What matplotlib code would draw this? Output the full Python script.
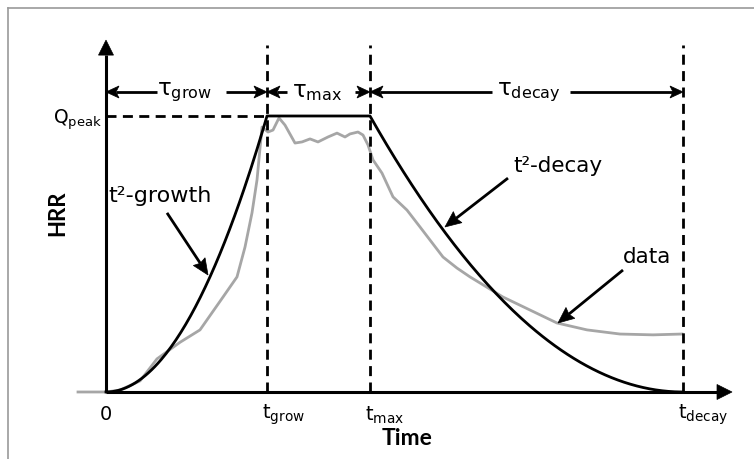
import matplotlib
matplotlib.use("Agg")
import matplotlib.pyplot as plt
import numpy as np
from matplotlib.lines import Line2D
from matplotlib.patches import Polygon

# model parameters (arbitrary time units)
T_GROW = 1.61
T_MAX = 2.64
T_DECAY = 5.77
Q_PEAK = 1.0

data_t = [-0.28, 0.0, 0.14, 0.34, 0.51, 0.74, 0.94, 1.17, 1.31, 1.39, 1.46, 1.51,
          1.56, 1.62, 1.67, 1.73, 1.79, 1.89, 1.96, 2.04, 2.12, 2.22, 2.31, 2.39,
          2.44, 2.52, 2.57, 2.62, 2.67, 2.76, 2.87, 3.01, 3.14, 3.37, 3.51, 3.64,
          3.74, 3.97, 4.24, 4.51, 4.81, 5.14, 5.47, 5.76]
data_q = [0.0, 0.0, 0.007, 0.04, 0.12, 0.18, 0.225, 0.344, 0.417, 0.525, 0.649, 0.768,
          0.96, 0.942, 0.949, 0.993, 0.967, 0.902, 0.906, 0.917, 0.906, 0.924, 0.938, 0.924,
          0.935, 0.942, 0.931, 0.895, 0.841, 0.793, 0.707, 0.659, 0.598, 0.489, 0.449, 0.417,
          0.395, 0.344, 0.297, 0.25, 0.225, 0.21, 0.207, 0.21]

tick_labels = ["0", r"t$_{\mathregular{grow}}$", r"t$_{\mathregular{max}}$", r"t$_{\mathregular{decay}}$"]

BLACK = "#000000"
GRAY = "#a6a6a6"
FONT = "DejaVu Sans"
BOLD = "Lato"

# pixels per data unit
SX, SY = 100.0, 276.0


def arrow(ax, tail, tip, length, width, notch=0.0, lw=2.0):
    """Straight arrow with a filled head; sizes in pixels."""
    dx, dy = (tip[0] - tail[0]) * SX, (tip[1] - tail[1]) * SY
    n = np.hypot(dx, dy)
    ux, uy = dx / n, dy / n
    px, py = -uy, ux
    tx, ty = tip[0] * SX, tip[1] * SY
    pts = [
        (tx, ty),
        (tx - ux * length + px * width / 2, ty - uy * length + py * width / 2),
        (tx - ux * (length - notch), ty - uy * (length - notch)),
        (tx - ux * length - px * width / 2, ty - uy * length - py * width / 2),
    ]
    pts = [(a / SX, b / SY) for a, b in pts]
    base = pts[2]
    ax.plot([tail[0], base[0]], [tail[1], base[1]], color=BLACK, lw=lw,
            solid_capstyle="butt", zorder=5)
    ax.add_patch(Polygon(pts, closed=True, facecolor=BLACK, edgecolor=BLACK, lw=0.5, zorder=6))


fig = plt.figure(figsize=(7.54, 4.59), dpi=100)
ax = fig.add_axes([0, 0, 1, 1])
ax.set_xlim(-1.06, 6.48)
ax.set_ylim(-0.2428, 1.4203)
ax.axis("off")

# outer frame (top and left edges visible)
fig.add_artist(Line2D([8 / 754, 1], [1 - 8 / 459] * 2, color="#9a9a9a", lw=1.2))
fig.add_artist(Line2D([8 / 754] * 2, [0, 1 - 8 / 459], color="#9a9a9a", lw=1.2))

# model curve: t^2 growth, plateau, t^2 decay
tg = np.linspace(0, T_GROW, 100)
td = np.linspace(T_MAX, T_DECAY, 150)
mt = np.concatenate([tg, td])
mq = np.concatenate([Q_PEAK * (tg / T_GROW) ** 2,
                     Q_PEAK * ((T_DECAY - td) / (T_DECAY - T_MAX)) ** 2])
ax.plot(data_t, data_q, color=GRAY, lw=2.0, zorder=2, solid_joinstyle="round")
ax.plot(mt, mq, color=BLACK, lw=2.0, zorder=3)

# axes with arrow heads
arrow(ax, (0, 0), (6.26, 0), 15, 15, lw=2.2)
arrow(ax, (0, 0), (0, 1.275), 15, 15, lw=2.2)

# guide lines
for tx in [T_GROW, T_MAX, T_DECAY]:
    ax.plot([tx, tx], [0, 1.257], color=BLACK, lw=2.0, dashes=(3.6, 2.3), zorder=3)
ax.plot([0, T_GROW], [Q_PEAK, Q_PEAK], color=BLACK, lw=2.0, dashes=(3.6, 2.3), zorder=3)

# duration arrows
y_arr = 1.087
for x0, x1, g0, g1, xc, lab in [
    (0, T_GROW, 0.51, 1.20, 0.78, r"$\mathregular{\tau_{grow}}$"),
    (T_GROW, T_MAX, 1.81, 2.49, 2.11, r"$\mathregular{\tau_{max}}$"),
    (T_MAX, T_DECAY, 3.86, 4.64, 4.23, r"$\mathregular{\tau_{decay}}$"),
]:
    arrow(ax, (g0, y_arr), (x0, y_arr), 13, 12, notch=3)
    arrow(ax, (g1, y_arr), (x1, y_arr), 13, 12, notch=3)
    ax.text(xc, y_arr, lab, ha="center", va="center", fontsize=16.5, family=FONT)

# labels
ax.text(-0.04, 0.985, r"Q$_{\mathregular{peak}}$", ha="right", va="center", fontsize=13.5, family=FONT)
ax.text(0.02, 0.71, "t²-growth", ha="left", va="center", fontsize=16, family=FONT)
ax.text(4.07, 0.82, "t²-decay", ha="left", va="center", fontsize=15.5, family=FONT)
ax.text(5.17, 0.49, "data", ha="left", va="center", fontsize=15.5, family=FONT)

arrow(ax, (0.61, 0.649), (1.02, 0.424), 16, 14, notch=2)
arrow(ax, (4.02, 0.775), (3.39, 0.598), 16, 14, notch=2)
arrow(ax, (5.17, 0.442), (4.52, 0.250), 16, 14, notch=2)

# tick labels on the time axis
for tx, lab in zip([0, T_GROW, T_MAX, T_DECAY], tick_labels):
    if tx == 0:
        ax.text(tx, -0.083, lab, ha="center", va="center", fontsize=14, family=FONT)
    else:
        ax.text(tx - 0.05, -0.083, lab, ha="left", va="center", fontsize=14, family=FONT)

ax.text(3.01, -0.17, "Time", ha="center", va="center", fontsize=16.5, family=BOLD, weight="bold")
ax.text(-0.48, 0.649, "HRR", ha="center", va="center", fontsize=16, family=BOLD,
        weight="bold", rotation=90)

fig.savefig("out.png", dpi=100)
